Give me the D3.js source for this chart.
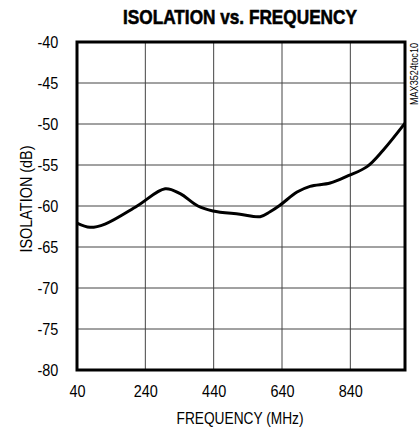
<!DOCTYPE html>
<html>
<head>
<meta charset="utf-8">
<script src="https://cdn.jsdelivr.net/npm/d3@7"></script>
<style>
  body { margin: 0; background: #fff; }
  text { font-family: "Liberation Sans", Arial, sans-serif; fill: #000; }
</style>
</head>
<body>
<svg id="chart"></svg>
<script>
// curve
const freq = [40, 78, 122, 216, 298, 342, 394, 438, 517, 576, 605, 634, 684, 722, 781, 834, 889, 936, 1000];
const isolation = [-62.1, -62.6, -62.2, -60.0, -57.9, -58.5, -60.0, -60.6, -61.0, -61.3, -60.7, -59.9, -58.3, -57.6, -57.2, -56.3, -55.2, -53.2, -49.9];

const xTicks = [40, 240, 440, 640, 840];
const xGrid = [240, 440, 640, 840];
const yTicks = [-40, -45, -50, -55, -60, -65, -70, -75, -80];

const width = 420, height = 429;
const margin = {top: 42, right: 15, bottom: 59, left: 77};

const svg = d3.select('#chart')
  .attr('width', width)
  .attr('height', height);

const xScale = d3.scaleLinear()
  .domain([40, 1000])
  .range([margin.left, width - margin.right]);

const yScale = d3.scaleLinear()
  .domain([-80, -40])
  .range([height - margin.bottom, margin.top]);

// grid
svg.append('g')
  .selectAll('line')
  .data(xGrid)
  .join('line')
  .attr('x1', d => xScale(d)).attr('x2', d => xScale(d))
  .attr('y1', margin.top).attr('y2', height - margin.bottom)
  .attr('stroke', '#444').attr('stroke-width', 1);

svg.append('g')
  .selectAll('line')
  .data(yTicks.slice(1, -1))
  .join('line')
  .attr('x1', margin.left).attr('x2', width - margin.right)
  .attr('y1', d => yScale(d)).attr('y2', d => yScale(d))
  .attr('stroke', '#444').attr('stroke-width', 1);

// tick labels (narrowed, the original uses a condensed face)
const xAxis = d3.axisBottom(xScale).tickValues(xTicks).tickSize(0).tickPadding(15);
const yAxis = d3.axisLeft(yScale).tickValues(yTicks).tickSize(0)
  .tickFormat(d => String(d));

svg.append('g')
  .attr('transform', 'translate(' + [0, height - margin.bottom] + ')')
  .call(xAxis)
  .call(g => g.select('.domain').remove())
  .selectAll('text')
  .attr('font-size', 17)
  .attr('font-family', '"Liberation Sans", sans-serif')
  .attr('textLength', function() { return this.getComputedTextLength() * 0.85; })
  .attr('lengthAdjust', 'spacingAndGlyphs');

svg.append('g')
  .attr('transform', 'translate(' + [margin.left, 0] + ')')
  .call(yAxis)
  .call(g => g.select('.domain').remove())
  .selectAll('text')
  .attr('x', -22)
  .attr('font-size', 17)
  .attr('font-family', '"Liberation Sans", sans-serif')
  .attr('transform', 'scale(0.85,1)');

// curve
const line = d3.line()
  .x((d, i) => xScale(freq[i]))
  .y(d => yScale(d))
  .curve(d3.curveCatmullRom);

svg.append('path')
  .attr('d', line(isolation))
  .attr('fill', 'none')
  .attr('stroke', '#000')
  .attr('stroke-width', 3);

// frame
svg.append('rect')
  .attr('x', margin.left).attr('y', margin.top)
  .attr('width', width - margin.right - margin.left)
  .attr('height', height - margin.bottom - margin.top)
  .attr('fill', 'none')
  .attr('stroke', '#000')
  .attr('stroke-width', 3);

// titles
svg.append('text')
  .attr('transform', 'translate(240,24) scale(0.82,1)')
  .attr('text-anchor', 'middle')
  .attr('font-size', 21)
  .attr('font-weight', 'bold')
  .attr('stroke', '#000')
  .attr('stroke-width', 0.6)
  .text('ISOLATION vs. FREQUENCY');

svg.append('text')
  .attr('x', 240).attr('y', 424)
  .attr('text-anchor', 'middle')
  .attr('font-size', 17)
  .attr('textLength', 127)
  .attr('lengthAdjust', 'spacingAndGlyphs')
  .text('FREQUENCY (MHz)');

svg.append('text')
  .attr('transform', 'translate(32,199) rotate(-90)')
  .attr('text-anchor', 'middle')
  .attr('font-size', 17)
  .attr('textLength', 107)
  .attr('lengthAdjust', 'spacingAndGlyphs')
  .text('ISOLATION (dB)');

svg.append('text')
  .attr('transform', 'translate(418,43) rotate(-90)')
  .attr('text-anchor', 'end')
  .attr('font-size', 10)
  .attr('textLength', 62)
  .attr('lengthAdjust', 'spacingAndGlyphs')
  .text('MAX3524toc10');
</script>
</body>
</html>
